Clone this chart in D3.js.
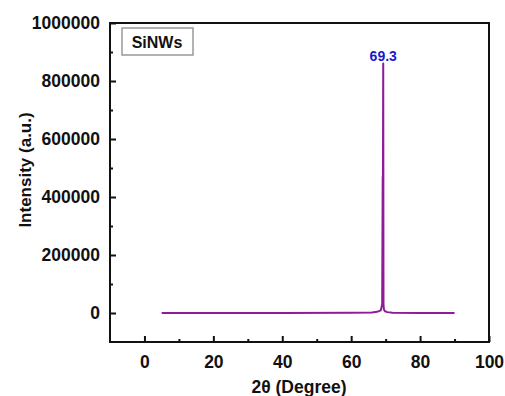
<!DOCTYPE html>
<html>
<head>
<meta charset="utf-8">
<script src="https://cdn.jsdelivr.net/npm/d3@7"></script>
<style>
  body { margin: 0; background: #fff; }
  svg { display: block; font-family: "Liberation Sans", Arial, sans-serif; }
</style>
</head>
<body>
<div id="chart"></div>
<script>
// XRD pattern of SiNWs
const twoTheta = [5, 20, 40, 60, 66, 67.5, 68.6, 69.0, 69.15, 69.22, 69.3, 69.38, 69.5, 69.8, 70.5, 72, 80, 90];
const intensity = [0, 0, 0, 1000, 2000, 4000, 9000, 30000, 470000, 470000, 860000, 30000, 12000, 6000, 3000, 1000, 0, 0];
const xTicks = [0, 20, 40, 60, 80, 100];
const yTicks = [0, 200000, 400000, 600000, 800000, 1000000];
const peakLabel = { x: 69.3, y: 860000, text: '69.3' };
const seriesName = 'SiNWs';

const W = 505, H = 396;
const m = { left: 110, top: 23, right: 16, bottom: 54 };

const svg = d3.select('#chart').append('svg')
    .attr('width', W).attr('height', H);

const x = d3.scaleLinear().domain([-10, 100]).range([m.left, W - m.right]);
const y = d3.scaleLinear().domain([-100000, 1000000]).range([H - m.bottom, m.top]);

const x0 = x.range()[0], x1 = x.range()[1];
const y0 = y.range()[0], y1 = y.range()[1];

// data line
const line = d3.line().x((d, i) => x(twoTheta[i])).y((d, i) => y(intensity[i]));
svg.append('path')
    .datum(twoTheta)
    .attr('d', line)
    .attr('fill', 'none')
    .attr('stroke', '#8e1c9a')
    .attr('stroke-width', 2)
    .attr('stroke-linejoin', 'round');

// axes, ticks inward
const xAxis = svg.append('g').attr('transform', `translate(0,${y0})`)
    .call(d3.axisBottom(x).tickValues(xTicks).tickSize(-6).tickPadding(14).tickFormat(d3.format('d')));
const xMinor = svg.append('g').attr('transform', `translate(0,${y0})`)
    .call(d3.axisBottom(x).tickValues(xTicks.slice(0, -1).map(v => v + 10)).tickSize(-3).tickFormat(''));
const yAxis = svg.append('g').attr('transform', `translate(${x0},0)`)
    .call(d3.axisLeft(y).tickValues(yTicks).tickSize(-6).tickPadding(10).tickFormat(d3.format('d')));
const yMinor = svg.append('g').attr('transform', `translate(${x0},0)`)
    .call(d3.axisLeft(y).tickValues(yTicks.slice(0, -1).map(v => v + 100000)).tickSize(-3).tickFormat(''));

[xAxis, xMinor, yAxis, yMinor].forEach(g => {
    g.select('.domain').remove();
    g.selectAll('line').attr('stroke', '#111').attr('stroke-width', 2);
    g.selectAll('text').attr('fill', '#111').style('font-size', '17.5px').style('font-weight', 'bold');
});

// frame
svg.append('rect')
    .attr('x', x0).attr('y', y1)
    .attr('width', x1 - x0).attr('height', y0 - y1)
    .attr('fill', 'none')
    .attr('stroke', '#111').attr('stroke-width', 2);

// legend box
svg.append('rect')
    .attr('x', 122).attr('y', 28).attr('width', 71).attr('height', 27)
    .attr('fill', '#fff').attr('stroke', '#999').attr('stroke-width', 1.5);
svg.append('text')
    .attr('x', 157).attr('y', 48)
    .attr('text-anchor', 'middle')
    .style('font-size', '16px').style('font-weight', 'bold')
    .attr('fill', '#111')
    .text(seriesName);

// peak label
svg.append('text')
    .attr('x', x(peakLabel.x)).attr('y', y(peakLabel.y) - 3)
    .attr('text-anchor', 'middle')
    .style('font-size', '14px').style('font-weight', 'bold')
    .attr('fill', '#1a1acc')
    .text(peakLabel.text);

// axis titles
svg.append('text')
    .attr('x', 299).attr('y', 393)
    .attr('text-anchor', 'middle')
    .style('font-size', '17.5px').style('font-weight', 'bold')
    .attr('fill', '#111')
    .text('2θ (Degree)');

svg.append('text')
    .attr('transform', 'translate(31,170) rotate(-90)')
    .attr('text-anchor', 'middle')
    .style('font-size', '17px').style('font-weight', 'bold')
    .attr('fill', '#111')
    .text('Intensity (a.u.)');
</script>
</body>
</html>
